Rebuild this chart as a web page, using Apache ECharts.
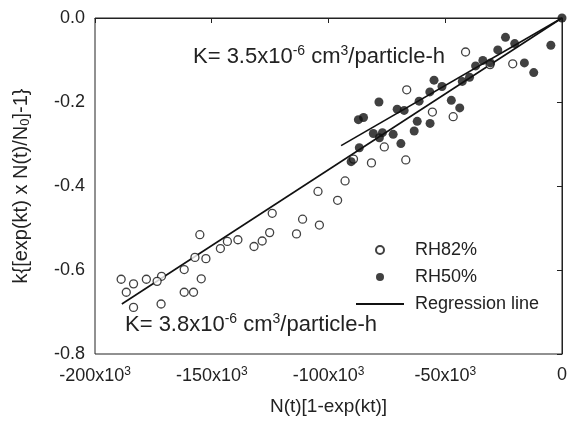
<!DOCTYPE html>
<html>
<head>
<meta charset="utf-8">
<script src="https://cdn.jsdelivr.net/npm/echarts@6/dist/echarts.min.js"></script>
<style>html,body{margin:0;padding:0;background:#fff}#c{width:570px;height:421px}</style>
</head>
<body>
<div id="c"></div>
<script>
// RH82% (open circles)
const rh82X = [-41300,-21100,-30800,-66500,-55500,-46600,-76100,-81600,-66900,-89300,-92900,-104500,-96100,-111100,-103900,-124100,-113700,-125200,-128400,-131900,-138800,-143300,-146300,-155100,-152500,-157200,-161800,-154500,-161800,-157800,-171500,-173400,-178000,-183500,-188800,-186600,-183500,-171700];
const rh82Y = [-0.081,-0.109,-0.111,-0.171,-0.224,-0.235,-0.307,-0.345,-0.338,-0.336,-0.388,-0.413,-0.434,-0.479,-0.493,-0.465,-0.514,-0.511,-0.531,-0.544,-0.528,-0.532,-0.549,-0.516,-0.573,-0.570,-0.599,-0.621,-0.653,-0.653,-0.615,-0.627,-0.622,-0.633,-0.622,-0.653,-0.689,-0.681];
// RH50% (filled circles)
const rh50X = [0,-24200,-20250,-27500,-4770,-33900,-37000,-30600,-16100,-12100,-54800,-51400,-56600,-42700,-39600,-78400,-70600,-67600,-61200,-47400,-43800,-87200,-85000,-80800,-76900,-78200,-72300,-69000,-63300,-62000,-56500,-86800,-90300];
const rh50Y = [0,-0.046,-0.061,-0.076,-0.065,-0.101,-0.114,-0.107,-0.107,-0.130,-0.148,-0.163,-0.176,-0.151,-0.141,-0.200,-0.217,-0.220,-0.198,-0.196,-0.214,-0.242,-0.237,-0.275,-0.273,-0.285,-0.277,-0.299,-0.269,-0.246,-0.251,-0.309,-0.342];
// Regression lines (end points)
const reg82X = [-188500, 0];
const reg82Y = [-0.681, 0];
const reg50X = [-94600, 0];
const reg50Y = [-0.304, 0];
// Tick labels
const xTicks = ['-200x10{s|3}','-150x10{s|3}','-100x10{s|3}','-50x10{s|3}','0'];
const yTicks = ['-0.8','-0.6','-0.4','-0.2','0.0'];

const zip = (a,b) => a.map((v,i)=>[v,b[i]]);
const FONT = 'Liberation Sans, Arial, sans-serif';
const TXT = '#222';
const supRich = (fs, pad) => ({fontSize: fs, fontFamily: FONT, color: TXT, fill: TXT, verticalAlign: 'top', padding: [0,0,pad,0]});

const chart = echarts.init(document.getElementById('c'));
chart.setOption({
  animation: false,
  grid: {left: 95, right: 6, top: 18, bottom: 65, show: true, borderColor: '#222', borderWidth: 1},
  xAxis: {
    type: 'value', min: -200000, max: 0, interval: 50000,
    name: 'N(t)[1-exp(kt)]', nameLocation: 'middle', nameGap: 43,
    nameTextStyle: {fontFamily: FONT, fontSize: 19, color: TXT},
    axisLine: {lineStyle: {color: '#222', width: 1}},
    axisTick: {show: true, length: 5, lineStyle: {color: '#222'}},
    splitLine: {show: false},
    axisLabel: {
      fontFamily: FONT, fontSize: 18, color: TXT, margin: 12,
      formatter: v => xTicks[Math.round((v + 200000) / 50000)],
      rich: {s: supRich(12, 9)}
    }
  },
  yAxis: {
    type: 'value', min: -0.8, max: 0, interval: 0.2,
    name: 'k{[exp(kt) x N(t)/N{b|0}]-1}', nameLocation: 'middle', nameGap: 63, nameRotate: 90,
    nameTextStyle: {fontFamily: FONT, fontSize: 20, color: TXT,
      rich: {b: {fontSize: 13, fontFamily: FONT, color: TXT, verticalAlign: 'bottom', padding: [8,0,0,0]}}},
    axisLine: {show: true, lineStyle: {color: '#222', width: 1}},
    axisTick: {show: true, length: 5, lineStyle: {color: '#222'}},
    splitLine: {show: false},
    axisLabel: {
      fontFamily: FONT, fontSize: 18, color: TXT, margin: 10,
      formatter: v => yTicks[Math.round((v + 0.8) / 0.2)]
    }
  },
  legend: {
    orient: 'vertical', left: 350, top: 236, itemWidth: 48, itemHeight: 8, itemGap: 9,
    textStyle: {fontFamily: FONT, fontSize: 18, color: TXT, padding: [0,0,0,6]},
    data: ['RH82%', 'RH50%', 'Regression line']
  },
  graphic: [
    {type: 'text', left: 193, top: 44, style: {text: 'K= 3.5x10{s|-6} cm{s|3}/particle-h', font: '22px ' + FONT, fill: TXT,
      rich: {s: supRich(14, 11)}}},
    {type: 'text', left: 125, top: 312, style: {text: 'K= 3.8x10{s|-6} cm{s|3}/particle-h', font: '22px ' + FONT, fill: TXT,
      rich: {s: supRich(14, 11)}}}
  ],
  series: [
    {name: 'Regression line', type: 'line', data: zip(reg82X, reg82Y), symbol: 'none',
      itemStyle: {color: 'rgba(0,0,0,0)'}, lineStyle: {color: '#111', width: 1.6}, z: 1},
    {name: 'Regression line', type: 'line', data: zip(reg50X, reg50Y), symbol: 'none',
      itemStyle: {color: 'rgba(0,0,0,0)'}, lineStyle: {color: '#111', width: 1.6}, z: 1},
    {name: 'RH82%', type: 'scatter', data: zip(rh82X, rh82Y), symbol: 'circle', symbolSize: 8,
      itemStyle: {color: '#fff', borderColor: '#111', borderWidth: 1.3}, z: 3},
    {name: 'RH50%', type: 'scatter', data: zip(rh50X, rh50Y), symbol: 'circle', symbolSize: 9,
      itemStyle: {color: '#111', borderColor: '#111', borderWidth: 0}, z: 4}
  ]
});
</script>
</body>
</html>
